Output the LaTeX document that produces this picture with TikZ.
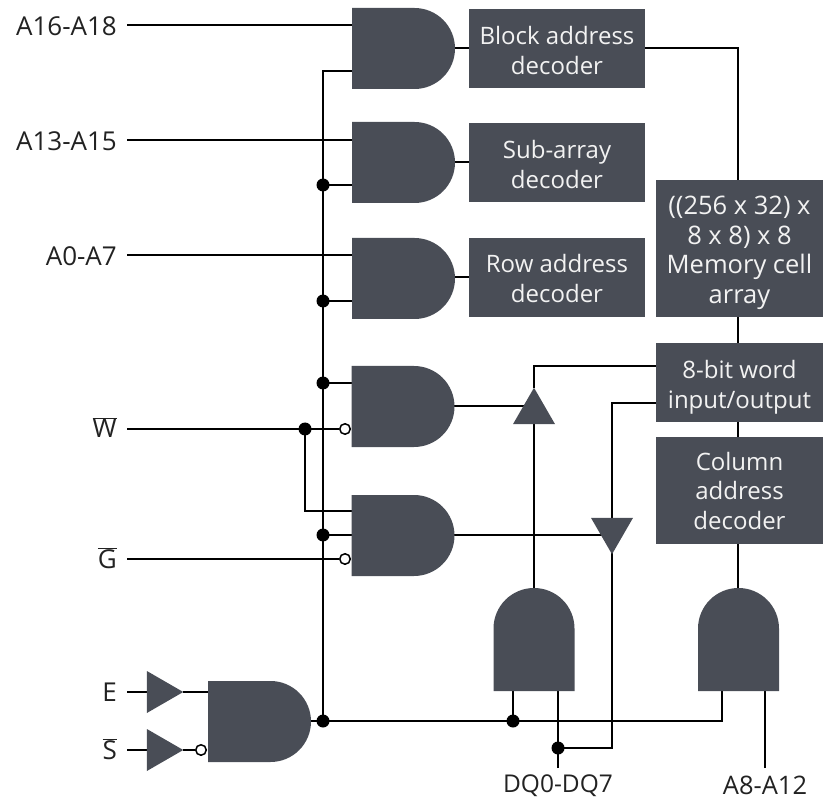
\documentclass[tikz,border=0pt]{standalone}
\usepackage{fontspec}
\setmainfont{Open Sans}
\usetikzlibrary{positioning, backgrounds, shapes.geometric, shapes.misc}
\definecolor{gatefill}{HTML}{494D56}
\definecolor{boxtext}{HTML}{F2F2F2}
\definecolor{lbltext}{HTML}{222222}
\newcommand{\firstline}[1]{\rule{0pt}{#1}}
\tikzset{
  andgate/.style = {rounded rectangle, rounded rectangle west arc=none, fill=gatefill,
                     inner sep=0pt, outer sep=0pt, minimum width=103pt, minimum height=81pt},
  decbox/.style  = {fill=gatefill, text=boxtext, align=center, inner sep=0pt, outer sep=0pt,
                     font=\fontsize{24}{29.5}\selectfont},
  wire/.style    = {draw=black, line width=1.7pt},
  jdot/.style    = {circle, fill=black, inner sep=0pt, minimum size=13pt},
  bubble/.style  = {circle, draw=black, fill=white, line width=1.5pt, inner sep=0pt, minimum size=10.5pt},
  drvtri/.style  = {regular polygon, regular polygon sides=3, fill=gatefill,
                     inner sep=0pt, outer sep=0pt, minimum size=48.5pt},
  siglbl/.style  = {text=lbltext, inner xsep=10pt, inner ysep=0pt, anchor=east, text height=22pt, text depth=0pt,
                     font=\fontsize{26}{30}\selectfont},
  barlbl/.style  = {siglbl, text height=18pt},
}
\begin{document}
\begin{tikzpicture}[x=1pt, y=-1pt]
        \useasboundingbox (0,0) rectangle (830,799);

        \node[andgate] (g1) at (403.5,48.5) {};
        \node[andgate] (g2) at (403.5,162.5) {};
        \node[andgate] (g3) at (403.5,278.5) {};
        \node[andgate] (g4) at (403,406.5) {};
        \node[andgate] (g5) at (403,535.5) {};
        \node[andgate] (g7) at (259.5,721.5) {};
        \node[andgate, rotate=90] (g6) at (534,639.5) {};
        \node[andgate, rotate=90] (g8) at (738.5,639.5) {};

        \coordinate (g1out) at (455,48);
        \coordinate (g2out) at (455,162);
        \coordinate (g3out) at (455,277);
        \coordinate (g4out) at (454,406);
        \coordinate (g5out) at (454,535);
        \coordinate (g7out) at (311,721);
        \coordinate (memx) at (738,0);

        \node[decbox, minimum width=176pt, minimum height=79pt] (blockdec) at (557,48.5)
             {\firstline{22pt}Block address\\decoder};
        \node[decbox, minimum width=176pt, minimum height=79pt] (subdec) at (557,162.5)
             {\firstline{22pt}Sub-array\\decoder};
        \node[decbox, minimum width=176pt, minimum height=79pt] (rowdec) at (557,277.5)
             {\firstline{20pt}Row address\\decoder};
        \node[decbox, minimum width=167pt, minimum height=137pt, font=\fontsize{25.5}{29.5}\selectfont] (memarr) at (739.5,248.5)
             {\firstline{27pt}((256 x 32) x\\8 x 8) x 8\\Memory cell\\array};
        \node[decbox, minimum width=167pt, minimum height=79pt] (wordio) at (739.5,382.5)
             {\firstline{28pt}8-bit word\\input/output};
        \node[decbox, minimum width=167pt, minimum height=107pt] (coldec) at (739.5,490.5) {Column\\address\\decoder};

        \node[drvtri] (utri) at (534,412) {};
        \node[drvtri, shape border rotate=180] (dtri) at (612,530) {};
        \node[drvtri, shape border rotate=-90] (etri) at (159,692) {};
        \node[drvtri, shape border rotate=-90] (stri) at (159,750) {};

        \node[siglbl] (a16) at (127,25) {A16-A18};
        \node[siglbl] (a13) at (127,140) {A13-A15};
        \node[siglbl] (a0) at (127,255) {A0-A7};
        \node[barlbl] (wbar) at (127,429) {$\overline{\mbox{W}}$};
        \node[barlbl] (gbar) at (127,559) {$\overline{\mbox{G}}$};
        \node[barlbl] (ein) at (127,692) {E};
        \node[barlbl] (sbar) at (127,750) {$\overline{\mbox{S}}$};
        \node[siglbl, inner xsep=0pt, inner ysep=2pt, anchor=north, font=\fontsize{24.5}{30}\selectfont] (dqlbl) at (558,768) {DQ0-DQ7};
        \node[siglbl, inner xsep=0pt, inner ysep=2pt, anchor=north, text height=24pt, font=\fontsize{25.5}{30}\selectfont] (a8lbl) at (765,768) {A8-A12};

        \node[jdot] (d1) at (323,185) {};
        \node[jdot] (d2) at (323,301) {};
        \node[jdot] (d3) at (323,383) {};
        \node[jdot] (d4) at (305,429) {};
        \node[jdot] (d5) at (323,535) {};
        \node[jdot] (d6) at (323,721) {};
        \node[jdot] (d7) at (513,721) {};
        \node[jdot] (d8) at (558,748) {};

        \node[bubble] (b1) at (345,429) {};
        \node[bubble] (b2) at (345,559) {};
        \node[bubble] (b3) at (201,750) {};

        \coordinate (g1in) at (352,71);
        \coordinate (g5in) at (352,511);
        \coordinate (g8in) at (722,691);

        \begin{scope}[on background layer]
        \draw[wire] (a16.east) -- (g1.west |- a16.east);
        \draw[wire] (a13.east) -- (g2.west |- a13.east);
        \draw[wire] (a0.east) -- (g3.west |- a0.east);
        \draw[wire] (wbar.east) -- (b1);
        \draw[wire] (gbar.east) -- (b2);
        \draw[wire] (ein.east) -- (etri);
        \draw[wire] (sbar.east) -- (stri);
        \draw[wire] (etri) -- (g7.west |- etri);
        \draw[wire] (stri) -- (b3);

        \draw[wire] (d6.center) -- (d6.center |- g1in) -- (g1in);
        \draw[wire] (d1.center) -- (g2.west |- d1);
        \draw[wire] (d2.center) -- (g3.west |- d2);
        \draw[wire] (d3.center) -- (g4.west |- d3);
        \draw[wire] (d5.center) -- (g5.west |- d5);
        \draw[wire] (d4.center) |- (g5in);
        \draw[wire] (g7out) -- (d6.center) -| (g8in);

        \draw[wire] (g1out) -- (blockdec.west |- g1out);
        \draw[wire] (g2out) -- (subdec.west |- g2out);
        \draw[wire] (g3out) -- (rowdec.west |- g3out);
        \draw[wire] (blockdec.east |- g1out) -| (memarr.north -| memx);
        \draw[wire] (memarr.south -| memx) -- (coldec.north -| memx);
        \draw[wire] (coldec.south -| memx) -- (g8.east -| memx);

        \draw[wire] (g4out) -- (g4out -| utri.center);
        \draw[wire] (g5out) -- (g5out -| dtri.center);
        \draw[wire] (utri.corner 1) |- (wordio.west |- 0,366);
        \draw[wire] (dtri.center) |- (wordio.west |- 0,403);
        \draw[wire] (utri.center) -- (g6.east);
        \draw[wire] (dtri.center) |- (d8.center);
        \draw[wire] (d7.center) -- (d7.center |- g6.west);
        \draw[wire] (dqlbl.north) -- (dqlbl.north |- g6.west);
        \draw[wire] (a8lbl.north) -- (a8lbl.north |- g8.west);
        \end{scope}
    \end{tikzpicture}
\end{document}
